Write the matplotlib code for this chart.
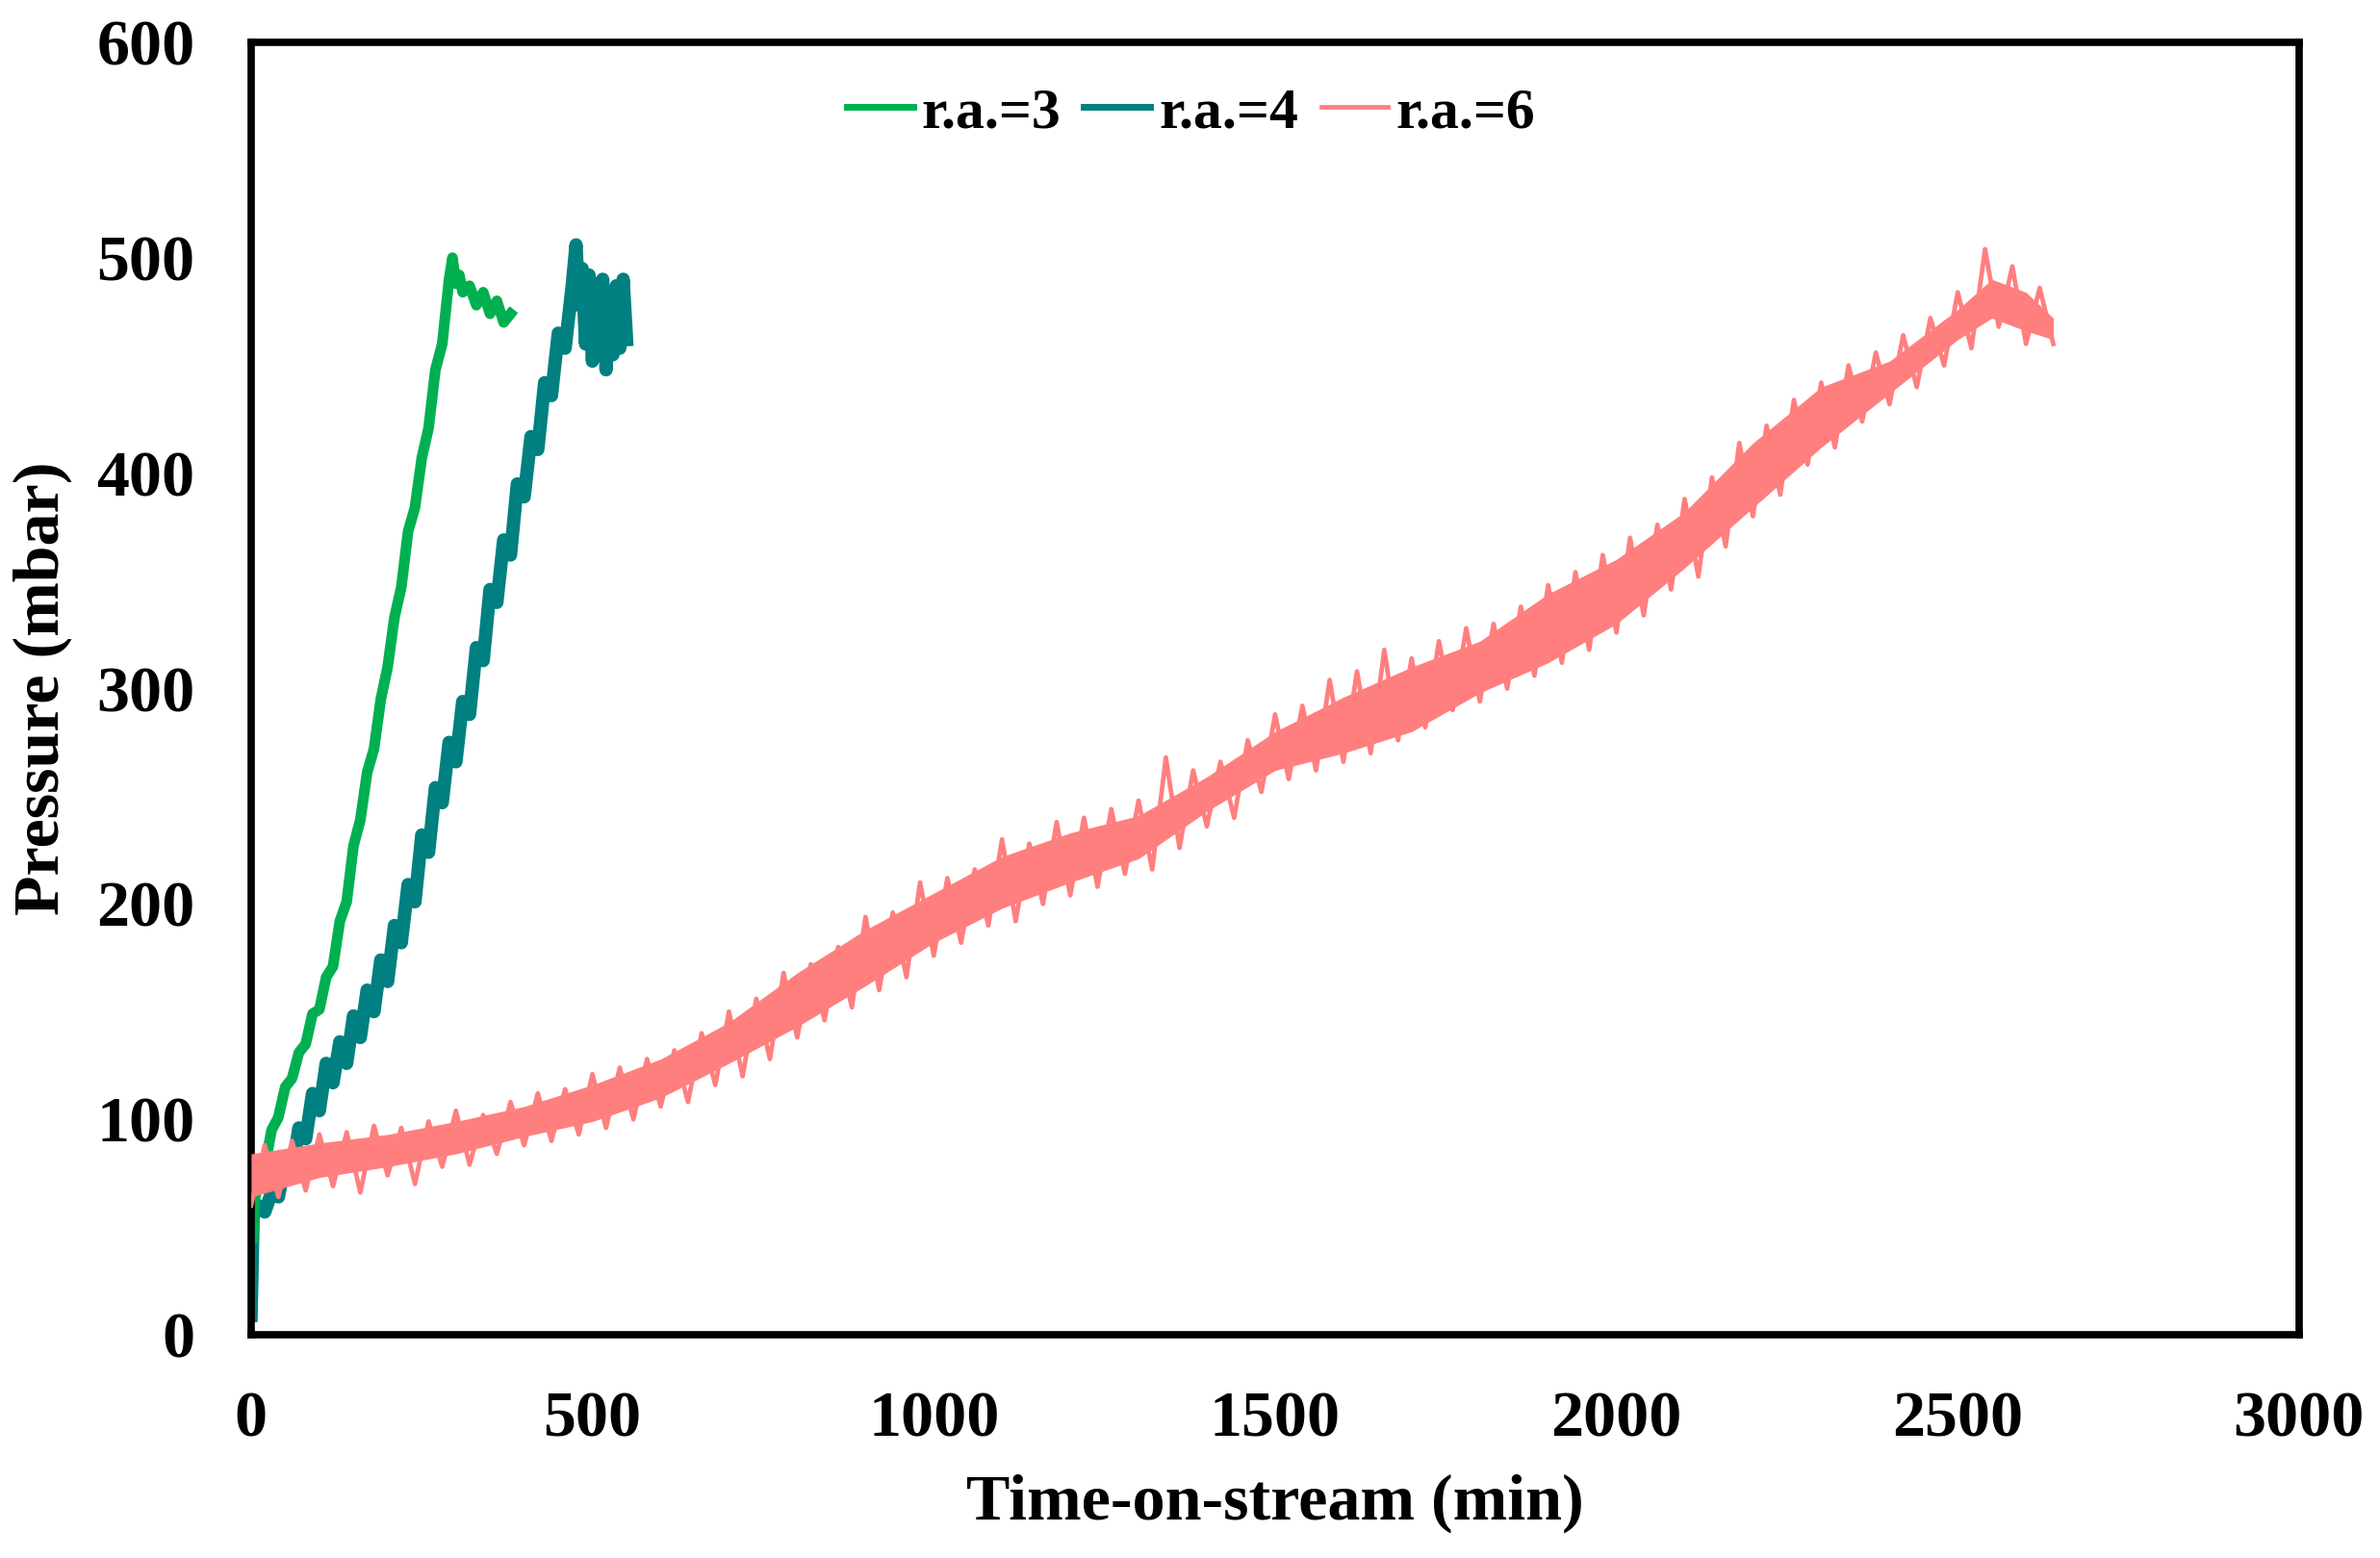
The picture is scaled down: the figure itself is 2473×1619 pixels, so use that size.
import matplotlib.pyplot as plt

# data (time in min, pressure in mbar)
t_ra3 = [3, 5, 10, 20, 30, 40, 50, 60, 70, 80, 90, 100, 110, 120, 130, 140, 150,
         160, 170, 180, 190, 200, 210, 220, 230, 240, 250, 260, 270, 280, 290,
         295, 300, 305, 310, 320, 330, 340, 350, 360, 370, 380]
p_ra3 = [45, 62, 70, 78, 95, 101, 115, 119, 131, 135, 149, 151, 166, 171, 192,
         201, 227, 239, 261, 272, 295, 310, 333, 347, 373, 384, 407, 421, 448,
         460, 490, 500, 488, 492, 484, 487, 478, 484, 474, 480, 470, 474]

t_ra4 = [0, 3, 10, 20, 30, 40, 50, 60, 70, 80, 90, 100, 110, 120, 130, 140, 150,
         160, 170, 180, 190, 200, 210, 220, 230, 240, 250, 260, 270, 280, 290,
         300, 310, 320, 330, 340, 350, 360, 370, 380, 390, 400, 410, 420, 430,
         440, 450, 460, 470, 476, 480, 485, 490, 495, 500, 505, 510, 515, 520,
         525, 530, 535, 540, 545, 550]
p_ra4 = [9, 55, 60, 57, 66, 64, 80, 76, 96, 91, 112, 104, 126, 117, 136, 126,
         148, 138, 160, 150, 174, 164, 190, 182, 209, 201, 232, 224, 254, 247,
         275, 266, 294, 288, 319, 313, 346, 340, 369, 362, 395, 389, 417, 411,
         442, 436, 465, 458, 486, 506, 478, 495, 460, 492, 452, 488, 462, 490,
         448, 484, 455, 487, 458, 490, 462]

t_ra6 = list(range(0, 2660, 20))
p_ra6 = [60, 88, 64, 90, 67, 93, 69, 94, 66, 97, 74, 96, 70, 99, 78, 104, 79,
         102, 84, 108, 88, 112, 90, 114, 93, 121, 96, 124, 100, 128, 106, 132,
         108, 140, 116, 150, 120, 156, 128, 168, 138, 172, 146, 180, 152, 194,
         160, 196, 166, 210, 176, 212, 182, 216, 190, 230, 192, 228, 200, 238,
         204, 240, 208, 244, 214, 248, 216, 268, 226, 262, 236, 266, 240, 276,
         252, 288, 258, 292, 262, 304, 266, 308, 270, 318, 276, 314, 282, 322,
         290, 328, 294, 330, 300, 338, 306, 348, 312, 354, 318, 362, 326, 370,
         334, 376, 346, 388, 352, 398, 366, 414, 380, 422, 390, 434, 404, 442,
         412, 450, 424, 456, 432, 464, 440, 472, 450, 484, 458, 504, 468, 496,
         460, 486, 460]

# noise band of r.a.=6 (lower / upper edge)
t_band6 = [0, 100, 200, 300, 400, 500, 600, 700, 800, 900, 1000, 1100, 1200,
           1300, 1400, 1500, 1600, 1700, 1800, 1900, 2000, 2100, 2200, 2300,
           2400, 2500, 2550, 2600, 2640]
low_ra6 = [64, 73, 78, 84, 92, 99, 110, 126, 143, 162, 182, 198, 210, 221, 243,
           262, 270, 280, 298, 312, 330, 356, 384, 412, 437, 462, 472, 466, 462]
high_ra6 = [84, 89, 93, 99, 106, 116, 128, 145, 168, 188, 205, 222, 233, 241,
            259, 280, 296, 310, 322, 344, 360, 382, 414, 440, 452, 476, 490, 484,
            472]

labels = ['r.a.=3', 'r.a.=4', 'r.a.=6']
colors = ['#00B050', '#008080', '#FF7F7F']

plt.rcParams['font.family'] = ['Liberation Serif', 'DejaVu Serif']
plt.rcParams['font.weight'] = 'bold'

fig = plt.figure(figsize=(24.73, 16.19), dpi=100)
ax = fig.add_axes([0.1055, 0.1433, 0.8605, 0.8295])

ax.plot(t_ra3, p_ra3, color=colors[0], lw=8, label=labels[0], zorder=2)
ax.plot(t_ra4, p_ra4, color=colors[1], lw=10, label=labels[1], zorder=1)
ax.fill_between(t_band6, low_ra6, high_ra6, color=colors[2], lw=0, zorder=3)
ax.plot(t_ra6, p_ra6, color=colors[2], lw=3.4, label=labels[2], zorder=3)

ax.set_xlim(0, 3000)
ax.set_ylim(0, 600)
ax.set_xticks(range(0, 3001, 500))
ax.set_yticks(range(0, 601, 100))
ax.tick_params(length=0, labelsize=49, pad=42)
for lab in ax.get_xticklabels() + ax.get_yticklabels():
    lab.set_fontweight('bold')

for s in ax.spines.values():
    s.set_linewidth(5.5)
    s.set_color('black')

ax.set_xlabel('Time-on-stream (min)', fontsize=49, fontweight='bold', labelpad=18)
ax.set_ylabel('Pressure (mbar)', fontsize=49, fontweight='bold', labelpad=18)

leg = ax.legend(loc='center', bbox_to_anchor=(0.459, 0.945), ncol=3, frameon=False,
                fontsize=43, handlelength=1.15, handletextpad=0.15,
                columnspacing=0.4, borderaxespad=0)
for t in leg.get_texts():
    t.set_fontweight('bold')
for h, w in zip(leg.legend_handles, [5, 5, 3.4]):
    h.set_linewidth(w)

fig.savefig('out.png', dpi=100)
